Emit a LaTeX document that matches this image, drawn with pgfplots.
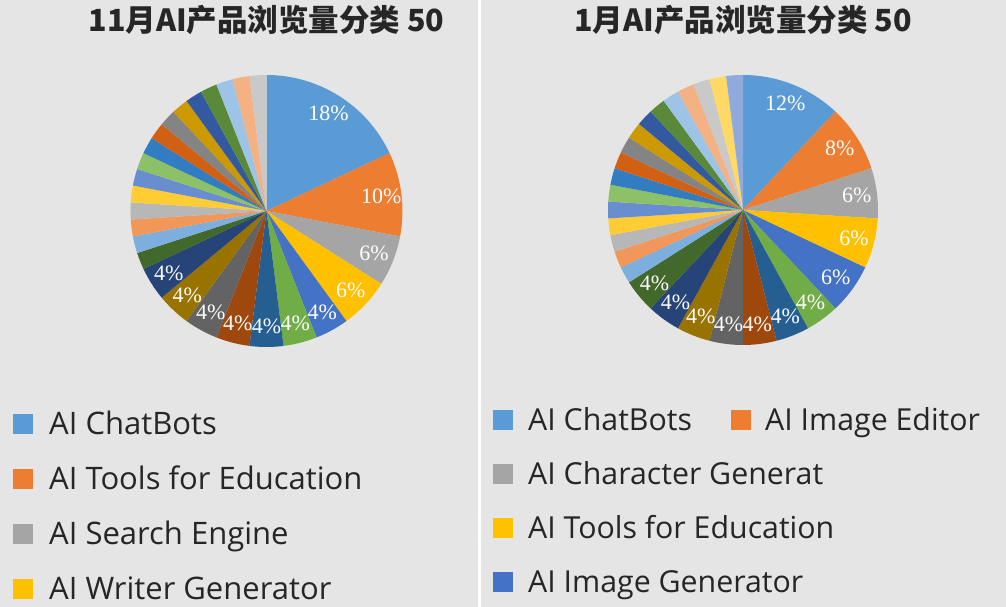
\documentclass[border=0pt]{standalone}
\usepackage{pgfplots}
\pgfplotsset{compat=1.18}
\usepackage{pgfplotstable}
\usepackage{fontspec}
\setmainfont{Open Sans}
\newfontfamily\cjk{Noto Sans CJK SC}
\newfontfamily\pctfont{Liberation Serif}

\definecolor{bg}{HTML}{E5E5E5}
\definecolor{c1}{HTML}{5B9BD5}
\definecolor{c2}{HTML}{ED7D31}
\definecolor{c3}{HTML}{A5A5A5}
\definecolor{c4}{HTML}{FFC000}
\definecolor{c5}{HTML}{4472C4}
\definecolor{c6}{HTML}{70AD47}
\definecolor{c7}{HTML}{255E91}
\definecolor{c8}{HTML}{9E480E}
\definecolor{c9}{HTML}{636363}
\definecolor{c10}{HTML}{997300}
\definecolor{c11}{HTML}{264478}
\definecolor{c12}{HTML}{43682B}
\definecolor{c13}{HTML}{7CAFDD}
\definecolor{c14}{HTML}{F1975A}
\definecolor{c15}{HTML}{B7B7B7}
\definecolor{c16}{HTML}{FFCD33}
\definecolor{c17}{HTML}{698ED0}
\definecolor{c18}{HTML}{8CC168}
\definecolor{c19}{HTML}{327DC2}
\definecolor{c20}{HTML}{D26012}
\definecolor{c21}{HTML}{848484}
\definecolor{c22}{HTML}{CC9A00}
\definecolor{c23}{HTML}{335AA1}
\definecolor{c24}{HTML}{5A8A39}
\definecolor{c25}{HTML}{9DC3E6}
\definecolor{c26}{HTML}{F4B183}
\definecolor{c27}{HTML}{C9C9C9}
\definecolor{c28}{HTML}{FFD966}
\definecolor{c29}{HTML}{8FAADC}

% share of views, in %, largest category first
\pgfplotstableread{
v
18
10
6
6
4
4
4
4
4
4
4
2
2
2
2
2
2
2
2
2
2
2
2
2
2
2
2
}\novdata

\pgfplotstableread{
v
12
8
6
6
6
4
4
4
4
4
4
4
2
2
2
2
2
2
2
2
2
2
2
2
2
2
2
2
2
}\jandata

\newcommand\pctstyle{\pctfont\fontsize{22}{26}\selectfont}

% #1 table, #2 radius of the pie on the canvas
\newcommand\pieslices[2]{%
  \pgfplotstablegetrowsof{#1}%
  \pgfmathtruncatemacro{\nlast}{\pgfplotsretval-1}%
  \def\ang{90}%
  \pgfplotsforeachungrouped \i in {0,...,\nlast}{%
    \pgfplotstablegetelem{\i}{v}\of#1%
    \let\val\pgfplotsretval
    \pgfmathsetmacro{\angB}{\ang-3.6*\val}%
    \pgfmathsetmacro{\angM}{(\ang+\angB)/2}%
    \pgfmathsetmacro{\xa}{cos(\ang)}%
    \pgfmathsetmacro{\ya}{sin(\ang)}%
    \pgfmathsetmacro{\xm}{0.85*cos(\angM)}%
    \pgfmathsetmacro{\ym}{0.85*sin(\angM)}%
    \pgfmathtruncatemacro{\ci}{\i+1}%
    \edef\temp{\noexpand\fill[c\ci] (axis cs:0,0) -- (axis cs:\xa,\ya)
      arc[start angle=\ang, end angle=\angB, radius=#2] -- cycle;}%
    \temp
    \ifdim\val pt>3pt
      \edef\temp{\noexpand\node[text=white, font=\noexpand\pctstyle]
        at (axis cs:\xm,\ym) {\val\noexpand\%};}%
      \temp
    \fi
    \let\ang\angB
  }%
}

\begin{document}
\begin{tikzpicture}[x=1pt,y=1pt]
\useasboundingbox (0,0) rectangle (1006,607);
\fill[bg] (0,0) rectangle (1006,607);
\fill[white] (477.5,0) rectangle (480.5,607);

\begin{axis}[at={(266.5pt,396pt)}, anchor=center,
  width=272pt, height=272pt, scale only axis,
  xmin=-1, xmax=1, ymin=-1, ymax=1, hide axis, clip=false]
  \pieslices{\novdata}{136pt}
\end{axis}

\begin{axis}[at={(743pt,397pt)}, anchor=center,
  width=270pt, height=270pt, scale only axis,
  xmin=-1, xmax=1, ymin=-1, ymax=1, hide axis, clip=false]
  \pieslices{\jandata}{135pt}
\end{axis}

\node[font=\cjk\bfseries\fontsize{30.5}{36}\selectfont, text=black!85] at (266.5,587) {11月AI产品浏览量分类 50};
\node[font=\cjk\bfseries\fontsize{30.5}{36}\selectfont, text=black!85] at (743,587) {1月AI产品浏览量分类 50};

% legends
\foreach \y/\c/\t in {183/c1/AI ChatBots, 128/c2/AI Tools for Education,
    73/c3/AI Search Engine, 18/c4/AI Writer Generator}{
  \fill[\c] (13,\y-10) rectangle (33,\y+10);
  \node[anchor=base west, inner sep=0, text=black!85, font=\fontsize{31}{36}\selectfont] at (49,\y-11) {\t};
}
\foreach \y/\c/\t in {187/c1/AI ChatBots, 133/c3/AI Character Generat,
    79/c4/AI Tools for Education, 25/c5/AI Image Generator}{
  \fill[\c] (493,\y-10) rectangle (513,\y+10);
  \node[anchor=base west, inner sep=0, text=black!85, font=\fontsize{30.3}{35}\selectfont] at (528,\y-10.5) {\t};
}
\fill[c2] (731,177) rectangle (751,197);
\node[anchor=base west, inner sep=0, text=black!85, font=\fontsize{30.3}{35}\selectfont] at (765,176.5) {AI Image Editor};
\end{tikzpicture}
\end{document}
